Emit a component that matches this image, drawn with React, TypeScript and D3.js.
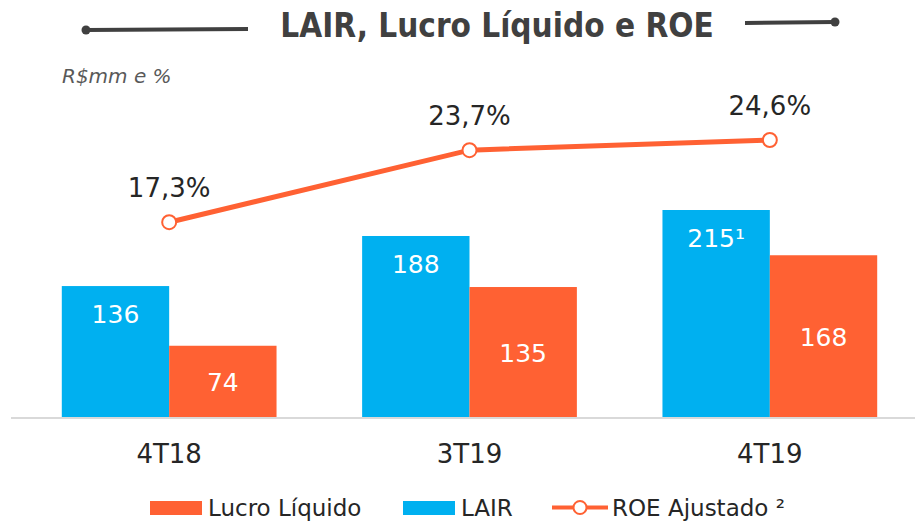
import React from "react";
import * as d3 from "d3";

const categories = ["4T18", "3T19", "4T19"];
const lairValues = [136, 188, 215];
const lairLabels = ["136", "188", "215¹"];
const lucroValues = [74, 135, 168];
const roeValues = [17.3, 23.7, 24.6];
const roeLabels = ["17,3%", "23,7%", "24,6%"];

const W = 915;
const H = 521;
const BLUE = "#00B0F0";
const ORANGE = "#FF6133";
const FONT = "'DejaVu Sans', Verdana, sans-serif";
const baseY = 417;

export default function App() {
  const x = d3.scaleBand<string>().domain(categories).range([19, 920]).paddingInner(0.285).paddingOuter(0.1425);
  const bw = x.bandwidth() / 2;
  const yBar = d3.scaleLinear().domain([0, 215]).range([baseY, 210]);
  const yRoe = d3.scaleLinear().domain([0, 24.6]).range([baseY, 140]);
  const cx = (c: string) => (x(c) as number) + x.bandwidth() / 2;
  const line = d3.line<number>().x((_, i) => cx(categories[i])).y((v) => yRoe(v));

  return (
    <svg width={W} height={H} style={{ position: "absolute", left: 0, top: 0, background: "#fff" }}>
      {/* title */}
      <line x1={86} y1={30} x2={248} y2={29} stroke="#404040" strokeWidth={4} />
      <circle cx={86} cy={30} r={4.5} fill="#404040" />
      <line x1={745} y1={23} x2={835} y2={22} stroke="#404040" strokeWidth={4} />
      <circle cx={835} cy={22} r={4.5} fill="#404040" />
      <text x={497} y={37} textAnchor="middle" fontFamily="'DejaVu Sans Condensed', 'DejaVu Sans', sans-serif" fontWeight="bold" fontStretch="condensed" fontSize={33} fill="#404040">
        LAIR, Lucro Líquido e ROE
      </text>
      <text x={62} y={83} fontFamily={FONT} fontStyle="italic" fontSize={20} fill="#595959">R$mm e %</text>

      {/* bars */}
      {categories.map((c, i) => (
        <g key={c}>
          <rect x={x(c)} y={yBar(lairValues[i])} width={bw} height={baseY - yBar(lairValues[i])} fill={BLUE} />
          <rect x={(x(c) as number) + bw} y={yBar(lucroValues[i])} width={bw} height={baseY - yBar(lucroValues[i])} fill={ORANGE} />
          <text x={(x(c) as number) + bw / 2} y={yBar(lairValues[i]) + 37} textAnchor="middle" fontFamily={FONT} fontSize={25} fill="#fff">
            {lairLabels[i]}
          </text>
          <text x={(x(c) as number) + bw * 1.5} y={(yBar(lucroValues[i]) + baseY) / 2 + 10} textAnchor="middle" fontFamily={FONT} fontSize={25} fill="#fff">
            {lucroValues[i]}
          </text>
          <text x={cx(c)} y={463} textAnchor="middle" fontFamily={FONT} fontSize={26} fill="#262626">{c}</text>
        </g>
      ))}

      {/* axis */}
      <line x1={11} x2={915} y1={baseY + 1} y2={baseY + 1} stroke="#D9D9D9" strokeWidth={2} />

      {/* ROE line */}
      <path d={line(roeValues) || ""} fill="none" stroke={ORANGE} strokeWidth={5} />
      {roeValues.map((v, i) => (
        <g key={i}>
          <circle cx={cx(categories[i])} cy={yRoe(v)} r={7} fill="#fff" stroke={ORANGE} strokeWidth={2} />
          <text x={cx(categories[i])} y={yRoe(v) - 25} textAnchor="middle" fontFamily={FONT} fontSize={26} fill="#262626">{roeLabels[i]}</text>
        </g>
      ))}

      {/* legend */}
      <rect x={150} y={501} width={52} height={14} fill={ORANGE} />
      <text x={208} y={516} fontFamily={FONT} fontSize={23} fill="#262626">Lucro Líquido</text>
      <rect x={403} y={501} width={52} height={14} fill={BLUE} />
      <text x={461} y={516} fontFamily={FONT} fontSize={23} fill="#262626">LAIR</text>
      <line x1={552} x2={608} y1={507.5} y2={507.5} stroke={ORANGE} strokeWidth={4} />
      <circle cx={580} cy={507.5} r={6.5} fill="#fff" stroke={ORANGE} strokeWidth={2} />
      <text x={612} y={516} fontFamily={FONT} fontSize={23} fill="#262626">ROE Ajustado ²</text>
    </svg>
  );
}
